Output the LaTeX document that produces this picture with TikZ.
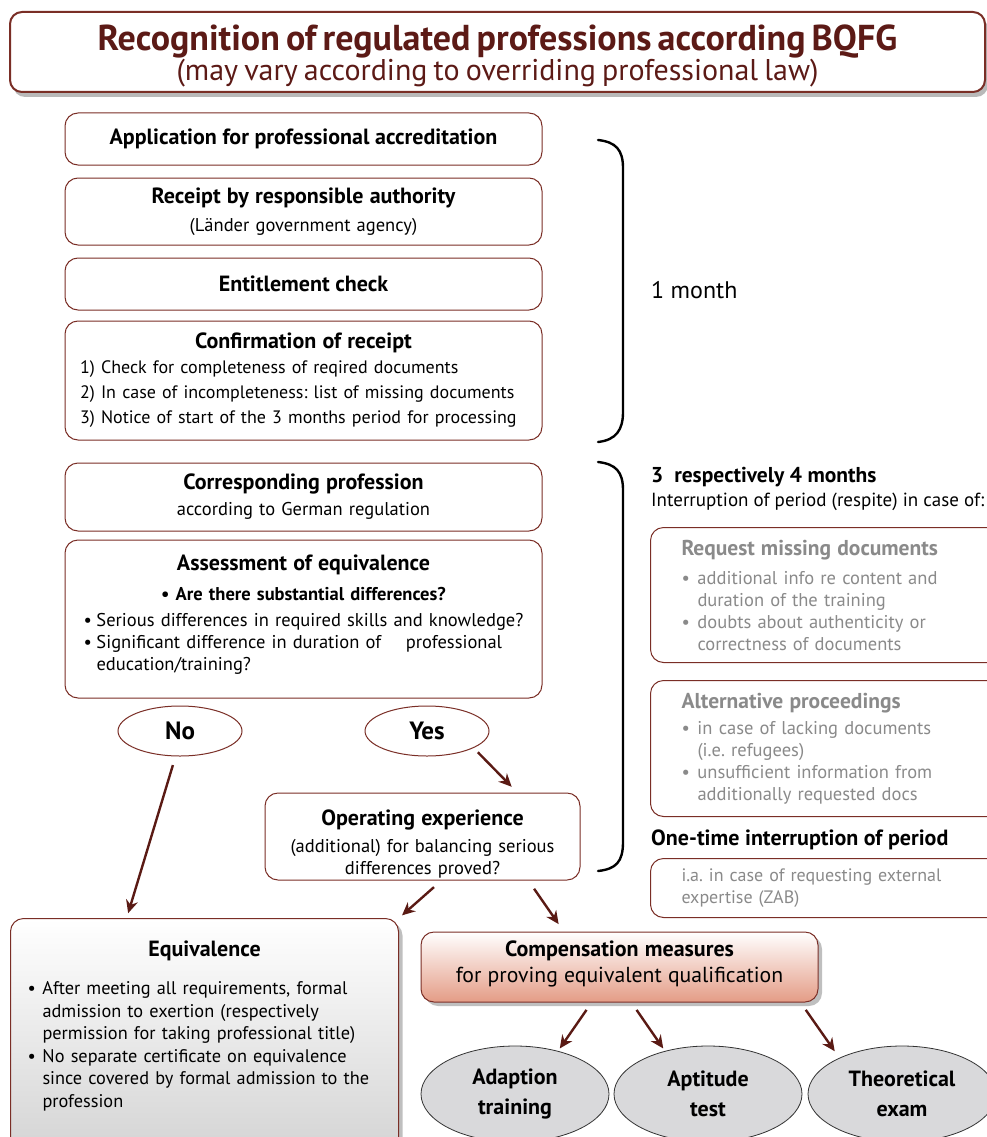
\documentclass[tikz,border=0pt]{standalone}
\usepackage{fontspec}
\setmainfont{PT Sans}
\usetikzlibrary{arrows.meta,shadows,calc,shapes.geometric}
\definecolor{boxred}{HTML}{7A2E26}
\definecolor{titlered}{HTML}{5C1A16}
\definecolor{arrowred}{HTML}{5A1A14}
\definecolor{softgray}{HTML}{8A8A8A}
\definecolor{ovalgray}{HTML}{D9D9DB}
\definecolor{salmon}{HTML}{E49C86}
\frenchspacing
\newcommand\bitem[1][15pt]{\noindent\hangindent=#1\hangafter=1\makebox[#1][l]{•}}
\newcommand\hd{\fontsize{22}{26}\selectfont\bfseries}

\begin{document}
\begin{tikzpicture}[x=1pt,y=-1pt,font=\fontsize{18.5}{22}\selectfont,
  box/.style={draw=boxred,line width=1pt,rounded corners=13pt,fill=white,inner sep=0pt},
  sidebox/.style={box,anchor=north west,minimum width=362pt,inner xsep=31pt,text width=300pt,align=left,text=softgray},
  oval/.style={ellipse,draw=boxred,line width=1pt,fill=white,minimum width=124pt,minimum height=50pt,font=\fontsize{25}{28}\selectfont\bfseries},
  exam/.style={ellipse,draw=black!80,line width=0.8pt,fill=ovalgray,minimum width=188pt,minimum height=96pt,align=center,font=\fontsize{22}{24}\selectfont\bfseries},
  arr/.style={draw=arrowred,line width=2.4pt,-{Stealth[length=13pt,width=12pt]}},
  brace/.style={line width=2.4pt,line cap=round}]
\useasboundingbox (0,0) rectangle (987,1137);
\def\LX{303.5}
% title
\node[box,line width=2pt,rounded corners=12pt,minimum width=975pt,minimum height=80pt,text width=965pt,align=center,text=titlered,
  drop shadow={shadow xshift=3pt,shadow yshift=-5pt,opacity=0.55}] (title) at (497.5,52)
  {{\fontsize{36}{38}\selectfont\bfseries\rule{0pt}{34pt}Recognition of regulated professions according BQFG\par}
   \fontsize{30}{35}\selectfont (may vary according to overriding professional law)};
% first month
\node[box,minimum width=477pt,minimum height=52pt,font=\hd] (apply) at (\LX,139) {Application for professional accreditation};
\node[box,minimum width=477pt,minimum height=67pt,text width=460pt,align=center] (receipt) at (\LX,211.5)
  {{\hd Receipt by responsible authority}\\[6pt](Länder government agency)};
\node[box,minimum width=477pt,minimum height=52pt,font=\hd] (check) at (\LX,284) {Entitlement check};
\node[box,minimum width=477pt,minimum height=119pt,text width=447pt,align=left] (confirm) at (\LX,380.5)
  {\fontsize{18}{25}\selectfont\centering{\hd Confirmation of receipt}\par\raggedright
   \mbox{1) Check for completeness of reqired documents}\newline
   \mbox{2) In case of incompleteness: list of missing documents}\newline
   \mbox{3) Notice of start of the 3 months period for processing}\par};
\draw[brace] (598,140) .. controls (616,142) and (623,150) .. (623,168) -- (623,412) .. controls (623,430) and (616,440) .. (598,442);
\node[anchor=west,inner sep=0pt,font=\fontsize{24}{28}\selectfont] (month) at (651,290) {1 month};
% assessment
\node[box,minimum width=477pt,minimum height=68pt,text width=460pt,align=center] (corresp) at (\LX,497)
  {{\hd Corresponding profession}\\[4pt]according to German regulation};
\node[box,minimum width=477pt,minimum height=158pt,text width=440pt,align=left] (assess) at (\LX,619)
  {\centering{\hd Assessment of equivalence}\\[8pt]\textbf{• Are there substantial differences?}\par\vspace{4pt}\raggedright
   \bitem[13pt]Serious differences in required skills and knowledge?\par
   \bitem[13pt]Significant difference in duration of \quad professional\newline education/training?\rule[-12pt]{0pt}{12pt}\par};
\node[oval] (no) at (180,731) {No};
\node[oval] (yes) at (427,731) {Yes};
\node[box,minimum width=315pt,minimum height=87pt,text width=300pt,align=center] (oper) at (422.5,836.5)
  {{\hd\rule{0pt}{31pt}Operating experience}\\[5pt](additional) for balancing serious\\differences proved?};
\draw[brace] (598,462) .. controls (616,464) and (623,472) .. (623,490) -- (623,842) .. controls (623,862) and (616,869) .. (598,871);
% interruptions
\node[anchor=west,inner sep=0pt,font=\fontsize{21.5}{24}\selectfont\bfseries] (months) at (651,477) {3\ \ respectively 4 months};
\node[anchor=west,inner sep=0pt,font=\fontsize{19}{22}\selectfont] (respite) at (651,502) {Interruption of period (respite) in case of:};
\node[sidebox,minimum height=135pt] (request) at (650,527)
  {{\fontsize{21.5}{22}\selectfont\bfseries Request missing documents}\par\vspace{7pt}
   \bitem[16pt]additional info re content and\newline duration of the training\par
   \bitem[16pt]doubts about authenticity or\newline correctness of documents\par};
\node[sidebox,minimum height=136pt] (altern) at (650,680)
  {{\fontsize{21.5}{22}\selectfont\bfseries Alternative proceedings}\par\vspace{4pt}
   \bitem[16pt]in case of lacking documents\newline(i.e. refugees)\par
   \bitem[16pt]unsufficient information from\newline additionally requested docs\par};
\node[anchor=west,inner sep=0pt,font=\fontsize{22}{24}\selectfont\bfseries] (onetime) at (651,840) {One-time interruption of period};
\node[sidebox,minimum height=59pt,font=\fontsize{18}{22}\selectfont] (expert) at (650,858) {i.a. in case of requesting external\newline expertise (ZAB)};
% results
\node[box,anchor=north west,inner xsep=17pt,inner ysep=22pt,text width=354pt,align=left,top color=white,bottom color=black!18,
  drop shadow={shadow xshift=4pt,shadow yshift=-4pt,opacity=0.5}] (equiv) at (10,918)
  {\centering{\hd Equivalence}\par\vspace{16pt}\raggedright\fontsize{18.3}{22.5}\selectfont
   \bitem After meeting all requirements, formal\newline admission to exertion (respectively\newline permission for taking professional title)\par
   \bitem No separate certificate on equivalence\newline since covered by formal admission to the\newline profession\rule[-40pt]{0pt}{40pt}\par};
\node[box,minimum width=397pt,minimum height=70pt,text width=394pt,align=center,top color=white,bottom color=salmon,
  drop shadow={shadow xshift=4pt,shadow yshift=-4pt,opacity=0.5}] (comp) at (619.5,967)
  {{\hd Compensation measures}\\[4pt]\fontsize{21.7}{26}\selectfont for proving equivalent qualification\rule[-10pt]{0pt}{10pt}};
\node[exam] (adapt) at (515,1094) {Adaption\\[6pt]training};
\node[exam] (aptit) at (708,1094) {Aptitude\\[6pt]test};
\node[exam] (theory) at (902,1094) {Theoretical\\[6pt]exam};
% arrows
\draw[arr,shorten <=9pt,shorten >=5pt] (no.-100) -- ($(equiv.north west)!0.3!(equiv.north east)$);
\draw[arr,shorten <=6pt,shorten >=8pt] (yes.-20) -- ($(oper.north west)!0.8!(oper.north east)$);
\draw[arr,shorten <=10pt,shorten >=4pt] ($(oper.south west)!0.56!(oper.south east)$) -- (equiv.north east);
\draw[arr,shorten <=10pt,shorten >=9pt] ($(oper.south west)!0.835!(oper.south east)$) -- ($(comp.north west)!0.36!(comp.north east)$);
\draw[arr,shorten <=9pt,shorten >=3pt] ($(comp.south west)!0.43!(comp.south east)$) -- (adapt.45);
\draw[arr,shorten <=9pt,shorten >=3pt] ($(comp.south west)!0.53!(comp.south east)$) -- (aptit.135);
\draw[arr,shorten <=9pt,shorten >=8pt] ($(comp.south west)!0.955!(comp.south east)$) -- (theory.150);
\end{tikzpicture}
\end{document}
